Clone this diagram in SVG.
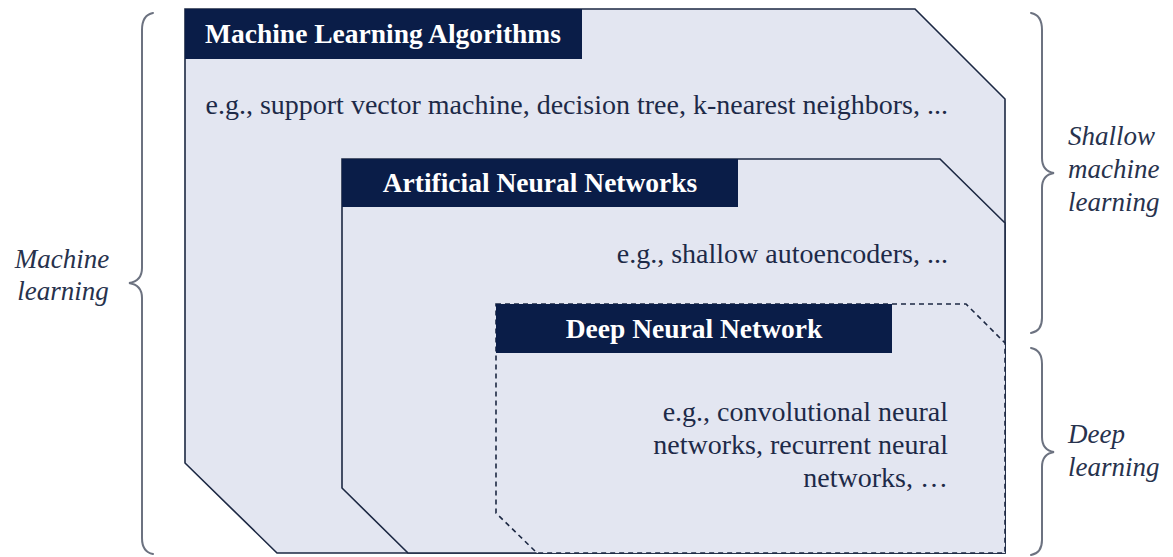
<svg xmlns="http://www.w3.org/2000/svg" width="1173" height="557" viewBox="0 0 1173 557">
  <style>
    .panel { fill: #e3e6f1; stroke: #1c2843; stroke-width: 1.6; stroke-linejoin: miter; }
    .dashed { fill: #e3e6f1; stroke: #1c2843; stroke-width: 1.6; stroke-dasharray: 5 4; }
    .bar { fill: #0a1d48; }
    text { font-family: 'Liberation Serif', 'Times New Roman', serif; }
    .title { font-weight: bold; font-size: 27.5px; fill: #ffffff; text-anchor: middle; }
    .note { font-size: 28px; fill: #1d2a48; text-anchor: end; }
    .side { font-style: italic; font-size: 27px; fill: #27324d; }
    .brace { fill: none; stroke: #6c7280; stroke-width: 2; stroke-linecap: round; }
  </style>

  <rect width="1173" height="557" fill="#ffffff"/>

  <!-- Outer panel: machine learning algorithms -->
  <g id="ml-algorithms">
    <polygon class="panel" points="185,9 915,9 1005,99 1005,553 277,553 185,463"/>
    <rect class="bar" x="185" y="9" width="397" height="50"/>
    <text class="title" x="383" y="43">Machine Learning Algorithms</text>
    <text class="note" x="948" y="114">e.g., support vector machine, decision tree, k-nearest neighbors, ...</text>
  </g>

  <!-- Middle panel: artificial neural networks -->
  <g id="ann">
    <polygon class="panel" points="342,159 940,159 1005,223 1005,553 408,553 342,488"/>
    <rect class="bar" x="342" y="159" width="396" height="48"/>
    <text class="title" x="540" y="192">Artificial Neural Networks</text>
    <text class="note" x="948" y="263">e.g., shallow autoencoders, ...</text>
  </g>

  <!-- Inner panel: deep neural network (dashed outline) -->
  <g id="dnn">
    <polygon class="dashed" points="496,304 966,304 1005,343 1005,553 537,553 496,513"/>
    <rect class="bar" x="496" y="304" width="396" height="49"/>
    <text class="title" x="694" y="338">Deep Neural Network</text>
    <text class="note" x="948" y="421">e.g., convolutional neural</text>
    <text class="note" x="948" y="454">networks, recurrent neural</text>
    <text class="note" x="948" y="487">networks, …</text>
  </g>

  <!-- Curly braces grouping the panels -->
  <g id="connectors">
    <path class="brace" d="M153,13 Q142,15 142,30 L142,268 Q142,281 129,283 Q142,285 142,298 L142,538 Q142,552 153,554"/>
    <path class="brace" d="M1031,13 Q1042,15 1042,30 L1042,158 Q1042,171 1054,173 Q1042,175 1042,188 L1042,318 Q1042,331 1031,333"/>
    <path class="brace" d="M1031,348 Q1042,350 1042,364 L1042,437 Q1042,450 1054,452 Q1042,454 1042,467 L1042,540 Q1042,553 1031,555"/>
  </g>

  <!-- Side labels -->
  <g id="label-machine-learning">
    <text class="side" x="62" y="268" text-anchor="middle">Machine</text>
    <text class="side" x="63" y="300" text-anchor="middle">learning</text>
  </g>
  <g id="label-shallow">
    <text class="side" x="1068" y="145">Shallow</text>
    <text class="side" x="1068" y="178">machine</text>
    <text class="side" x="1068" y="211">learning</text>
  </g>
  <g id="label-deep">
    <text class="side" x="1068" y="443">Deep</text>
    <text class="side" x="1068" y="476">learning</text>
  </g>
</svg>
